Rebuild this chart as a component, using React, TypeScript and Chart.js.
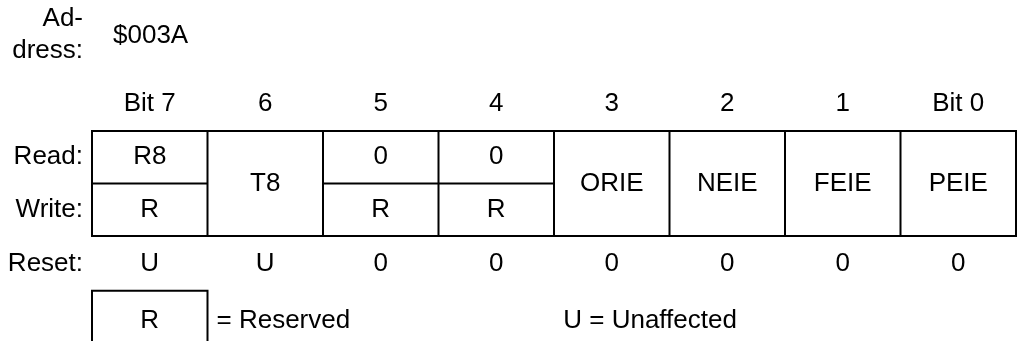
import React, { useEffect, useRef } from "react";
import { Chart, registerables } from "chart.js";

Chart.register(...registerables);

// ---- data ----
const addressCaption = ["Ad-", "dress:"];
const addressValue = "$003A";
const bitLabels = ["Bit 7", "6", "5", "4", "3", "2", "1", "Bit 0"];
const rowLabels = ["Read:", "Write:", "Reset:"];
const readValues = ["R8", "T8", "0", "0", "ORIE", "NEIE", "FEIE", "PEIE"];
const writeValues = ["R", "T8", "R", "R", "ORIE", "NEIE", "FEIE", "PEIE"];
const sharedReadWrite = [false, true, false, false, true, true, true, true];
const resetValues = ["U", "U", "0", "0", "0", "0", "0", "0"];
const legendBoxLabel = "R";
const legendBoxText = "= Reserved";
const legendUnaffected = "U = Unaffected";

const FONT = '26px "Liberation Sans", Arial, Helvetica, sans-serif';

const registerPlugin = {
  id: "registerDiagram",
  afterDraw(chart: any) {
    const ctx = chart.ctx as CanvasRenderingContext2D;
    const xs = chart.scales.x;
    const ys = chart.scales.y;
    const px = (v: number) => xs.getPixelForValue(v);
    const py = (v: number) => ys.getPixelForValue(v);
    const n = bitLabels.length;

    ctx.save();
    ctx.strokeStyle = "#000";
    ctx.lineWidth = 2;
    ctx.lineCap = "butt";

    // outer frame
    ctx.beginPath();
    ctx.rect(px(0), py(0), px(n) - px(0), py(2) - py(0));
    // column dividers
    for (let i = 1; i < n; i++) {
      ctx.moveTo(px(i), py(0));
      ctx.lineTo(px(i), py(2));
    }
    // read/write separators
    for (let i = 0; i < n; i++) {
      if (!sharedReadWrite[i]) {
        ctx.moveTo(px(i), py(1));
        ctx.lineTo(px(i + 1), py(1));
      }
    }
    // legend box (open at the bottom, cut by the page edge)
    const lt = py(3.042);
    const lb = py(4.5);
    ctx.moveTo(px(0), lb);
    ctx.lineTo(px(0), lt);
    ctx.lineTo(px(1), lt);
    ctx.lineTo(px(1), lb);
    ctx.stroke();

    ctx.fillStyle = "#000";
    ctx.font = FONT;
    ctx.textBaseline = "alphabetic";

    const labelRight = px(0) - 9;

    // address
    ctx.textAlign = "right";
    ctx.fillText(addressCaption[0], labelRight, py(-2.0));
    ctx.fillText(addressCaption[1], labelRight, py(-1.39));
    ctx.textAlign = "left";
    ctx.fillText(addressValue, px(0) + 21, py(-1.676));

    // row labels
    ctx.textAlign = "right";
    ctx.fillText(rowLabels[0], labelRight, py(0.629));
    ctx.fillText(rowLabels[1], labelRight, py(1.638));
    ctx.fillText(rowLabels[2], labelRight, py(2.667));

    // header + cells + reset
    ctx.textAlign = "center";
    for (let i = 0; i < n; i++) {
      const cx = px(i + 0.5);
      ctx.fillText(bitLabels[i], cx, py(-0.381));
      if (sharedReadWrite[i]) {
        ctx.fillText(readValues[i], cx, py(1.143));
      } else {
        ctx.fillText(readValues[i], cx, py(0.629));
        ctx.fillText(writeValues[i], cx, py(1.638));
      }
      ctx.fillText(resetValues[i], cx, py(2.667));
    }

    // legend
    ctx.fillText(legendBoxLabel, px(0.5), py(3.743));
    ctx.textAlign = "left";
    ctx.fillText(legendBoxText, px(1) + 9, py(3.743));
    ctx.fillText(legendUnaffected, px(4.08), py(3.743));

    ctx.restore();
  },
};

export default function App() {
  const canvasRef = useRef<HTMLCanvasElement | null>(null);

  useEffect(() => {
    document.body.style.margin = "0";
    const canvas = canvasRef.current;
    if (!canvas) return;
    const chart = new Chart(canvas, {
      type: "scatter",
      data: {
        datasets: [
          {
            data: [],
            pointRadius: 0,
          },
        ],
      },
      options: {
        animation: false,
        responsive: false,
        devicePixelRatio: 1,
        layout: { padding: { left: 92, right: 2, top: 131, bottom: 105 } },
        scales: {
          x: { type: "linear", min: 0, max: bitLabels.length, display: false },
          y: { type: "linear", min: 0, max: 2, reverse: true, display: false },
        },
        plugins: {
          legend: { display: false },
          tooltip: { enabled: false },
        },
      },
      plugins: [registerPlugin],
    });
    return () => chart.destroy();
  }, []);

  return (
    <div style={{ width: 1018, height: 341, background: "#fff" }}>
      <canvas ref={canvasRef} width={1018} height={341} style={{ display: "block" }} />
    </div>
  );
}
